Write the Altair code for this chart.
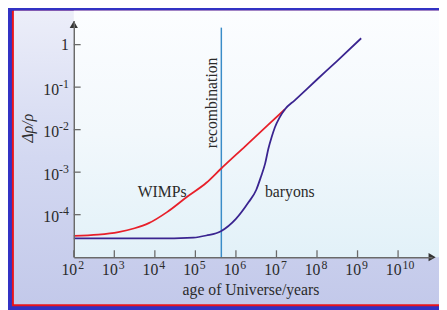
import altair as alt
import pandas as pd

# ---- data (log10 values) ----
wimp_log_age   = [2.0, 2.6, 3.1, 3.5, 3.85, 4.3, 4.78, 5.27, 5.63, 6.24, 6.8, 7.21]
wimp_log_delta = [-4.50, -4.47, -4.41, -4.32, -4.20, -3.94, -3.59, -3.25, -2.92, -2.38, -1.88, -1.52]

bary_log_age   = [2.0, 3.0, 4.0, 4.95, 5.27, 5.63, 6.0, 6.31, 6.50, 6.62, 6.72, 6.80, 6.88, 6.96, 7.08, 7.21, 7.45, 8.0, 8.5, 9.09]
bary_log_delta = [-4.56, -4.56, -4.56, -4.54, -4.49, -4.39, -4.10, -3.71, -3.42, -3.10, -2.80, -2.45, -2.18, -1.95, -1.71, -1.52, -1.31, -0.82, -0.38, 0.15]

recomb_log_age = 5.64
recomb_log_top = 0.40

x_tick_exps = [2, 3, 4, 5, 6, 7, 8, 9, 10]
x_tick_base = ["10"] * 9
x_tick_sup = ["2", "3", "4", "5", "6", "7", "8", "9", "10"]
y_tick_exps = [-4, -3, -2, -1, 0]
y_tick_base = ["10", "10", "10", "10", "1"]
y_tick_sup = ["-4", "-3", "-2", "-1", ""]

label_texts = ["WIMPs", "baryons"]
label_log_age = [4.18, 7.33]
label_log_delta = [-3.48, -3.48]

# ---- tables ----
curves = pd.concat([
    pd.DataFrame({"age": [10 ** v for v in wimp_log_age],
                  "delta": [10 ** v for v in wimp_log_delta],
                  "series": "WIMPs", "order": range(len(wimp_log_age))}),
    pd.DataFrame({"age": [10 ** v for v in bary_log_age],
                  "delta": [10 ** v for v in bary_log_delta],
                  "series": "baryons", "order": range(len(bary_log_age))}),
])
labels = pd.DataFrame({"text": label_texts,
                       "age": [10 ** v for v in label_log_age],
                       "delta": [10 ** v for v in label_log_delta]})
recomb = pd.DataFrame({"age": [10 ** recomb_log_age],
                       "top": [10 ** recomb_log_top], "bottom": [1e-5],
                       "mid": [10 ** -1.37], "text": ["recombination"]})
xticks = pd.DataFrame({"age": [10 ** e for e in x_tick_exps],
                       "base": x_tick_base, "sup": x_tick_sup})
yticks = pd.DataFrame({"delta": [10 ** e for e in y_tick_exps],
                       "base": y_tick_base, "sup": y_tick_sup})
one = pd.DataFrame({"a": [0]})

FONT = "Liberation Serif"
TXT = "#2b2b2b"
AX = "#6a6a6a"
W, H = 365, 241

xscale = alt.Scale(type="log", domain=[100, 10 ** 10.84], nice=False)
yscale = alt.Scale(type="log", domain=[1e-5, 10 ** 0.566], nice=False)

xaxis = alt.Axis(values=[10 ** e for e in x_tick_exps], labels=False,
                 ticks=False, tickSize=0, grid=False, domainColor=AX, domainWidth=1.5,
                 title="age of Universe/years", titleFont=FONT, titleFontSize=16,
                 titleFontWeight="normal", titleColor=TXT, titleX=180, titleY=38,
                 titleBaseline="alphabetic", titleAlign="center", zindex=1)
yaxis = alt.Axis(values=[10 ** e for e in y_tick_exps], labels=False,
                 ticks=False, tickSize=0, grid=False, domainColor=AX, domainWidth=1.5,
                 title="Δρ/ρ", titleFont=FONT, titleFontSize=16, titleFontStyle="italic",
                 titleFontWeight="normal", titleColor=TXT, titleX=-47, titleY=109,
                 titleAngle=270, titleBaseline="middle", titleAlign="center", zindex=1)

X = alt.X("age:Q", scale=xscale, axis=xaxis)
Y = alt.Y("delta:Q", scale=yscale, axis=yaxis)

# ---- background frame ----
red_frame = alt.Chart(one).mark_rect(color="#e8141c").encode(
    x=alt.value(-63), x2=alt.value(380), y=alt.value(-10), y2=alt.value(291))
panel = alt.Chart(one).mark_rect(
    color=alt.LinearGradient(gradient="linear", x1=0, x2=0, y1=0, y2=1,
                             stops=[alt.GradientStop(color="#eceef9", offset=0),
                                    alt.GradientStop(color="#d3d8f1", offset=0.5),
                                    alt.GradientStop(color="#c3c9ea", offset=1)])
).encode(x=alt.value(-61), x2=alt.value(380), y=alt.value(-10), y2=alt.value(289))
plot_bg = alt.Chart(one).mark_rect(
    color=alt.LinearGradient(gradient="linear", x1=0, x2=0, y1=0, y2=1,
                             stops=[alt.GradientStop(color="#fcfdff", offset=0),
                                    alt.GradientStop(color="#f2f8fc", offset=0.5),
                                    alt.GradientStop(color="#e2f1f8", offset=1)])
).encode(x=alt.value(0), x2=alt.value(380), y=alt.value(-10), y2=alt.value(H))

# ---- ticks (inward) and tick labels ----
xt = alt.Chart(xticks).mark_rule(color=AX, strokeWidth=1.3).encode(
    x=X, y=alt.value(H), y2=alt.value(H - 7))
yt = alt.Chart(yticks).mark_rule(color=AX, strokeWidth=1.3).encode(
    y=Y, x=alt.value(0), x2=alt.value(7))

xl_base = alt.Chart(xticks).mark_text(font=FONT, fontSize=16, color=TXT, align="right",
                                      baseline="alphabetic", dx=3.5, dy=18).encode(
    x=X, y=alt.value(H), text="base:N")
xl_sup = alt.Chart(xticks).mark_text(font=FONT, fontSize=12, color=TXT, align="left",
                                     baseline="alphabetic", dx=4.5, dy=12).encode(
    x=X, y=alt.value(H), text="sup:N")
yl_base10 = alt.Chart(yticks).transform_filter("datum.sup != ''").mark_text(
    font=FONT, fontSize=16, color=TXT, align="right", baseline="alphabetic",
    dx=-15, dy=7.7).encode(y=Y, x=alt.value(0), text="base:N")
yl_base1 = alt.Chart(yticks).transform_filter("datum.sup == ''").mark_text(
    font=FONT, fontSize=16, color=TXT, align="right", baseline="alphabetic",
    dx=-5, dy=5).encode(y=Y, x=alt.value(0), text="base:N")
yl_sup = alt.Chart(yticks).transform_filter("datum.sup != ''").mark_text(
    font=FONT, fontSize=12, color=TXT, align="right", baseline="alphabetic",
    dx=-5, dy=0.7).encode(y=Y, x=alt.value(0), text="sup:N")

# ---- arrows ----
arrow_x = alt.Chart(one).mark_point(shape="triangle-right", filled=True, color="#333", size=70, opacity=1).encode(
    x=alt.value(W), y=alt.value(H))
arrow_y = alt.Chart(one).mark_point(shape="triangle-up", filled=True, color="#333", size=70, opacity=1).encode(
    x=alt.value(0), y=alt.value(4))

# ---- recombination ----
rec_line = alt.Chart(recomb).mark_rule(color="#3a8cc8", strokeWidth=1.5).encode(
    x=alt.X("age:Q", scale=xscale, axis=xaxis),
    y=alt.Y("top:Q", scale=yscale, axis=yaxis), y2="bottom:Q")
rec_text = alt.Chart(recomb).mark_text(font=FONT, fontSize=16, color=TXT, angle=270,
                                       align="center", baseline="middle", dy=-9).encode(
    x=alt.X("age:Q", scale=xscale, axis=xaxis),
    y=alt.Y("mid:Q", scale=yscale, axis=yaxis), text="text:N")

# ---- curves ----
lines = alt.Chart(curves).mark_line(interpolate="monotone", strokeWidth=1.8).encode(
    x=X, y=Y, order="order:Q",
    color=alt.Color("series:N", scale=alt.Scale(domain=["WIMPs", "baryons"],
                                               range=["#e8202a", "#3a2490"]), legend=None),
    detail="series:N")

curve_labels = alt.Chart(labels).mark_text(font=FONT, fontSize=16, color=TXT,
                                           align="center", baseline="middle").encode(
    x=X, y=Y, text="text:N")

chart = alt.layer(red_frame, panel, plot_bg, rec_line, xt, yt, lines, curve_labels,
                  rec_text, xl_base, xl_sup, yl_base10, yl_base1, yl_sup,
                  arrow_x, arrow_y).properties(
    width=W, height=H,
    autosize=alt.AutoSizeParams(type="none"),
    padding={"left": 67, "top": 10, "right": 7, "bottom": 51},
    background="#3232c4",
).configure_view(stroke=None)

chart.save("out.html", embed_options={"renderer": "svg", "actions": False})
